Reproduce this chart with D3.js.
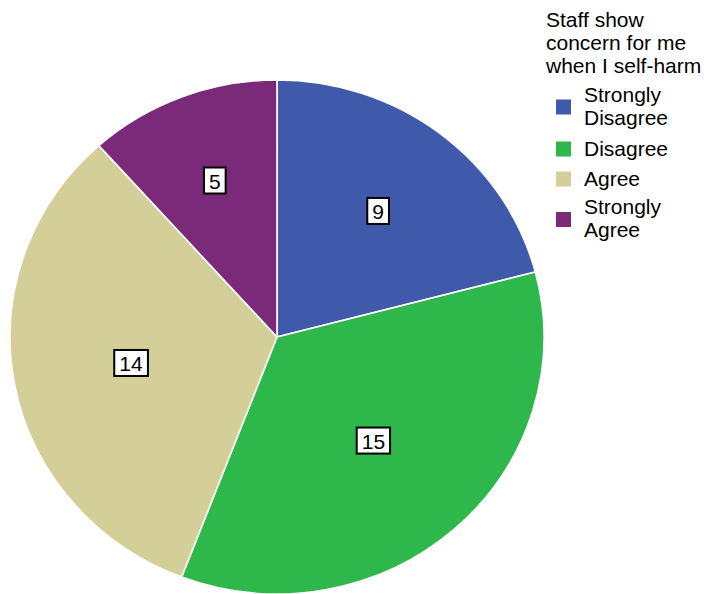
<!DOCTYPE html>
<html>
<head>
<meta charset="utf-8">
<script src="https://cdn.jsdelivr.net/npm/d3@7"></script>
<style>
  html, body { margin: 0; padding: 0; background: #fff; }
  svg { display: block; }
  text { font-family: "Liberation Sans", Arial, sans-serif; }
</style>
</head>
<body>
<svg id="chart" width="707" height="594"></svg>
<script>
// Data
const categories = ["Strongly Disagree", "Disagree", "Agree", "Strongly Agree"];
const legendLines = [["Strongly", "Disagree"], ["Disagree"], ["Agree"], ["Strongly", "Agree"]];
const counts = [9, 15, 14, 5];
const colors = ["#3f59ab", "#2eb84b", "#d4cf98", "#7b2979"];
const legendTitle = ["Staff show", "concern for me", "when I self-harm"];

const svg = d3.select("#chart");
const cx = 277, cy = 337, rx = 267, ry = 257;
const sy = ry / rx;

const pie = d3.pie().sort(null).value(d => d)(counts);
const arc = d3.arc().innerRadius(0).outerRadius(rx);
const color = d3.scaleOrdinal().domain(categories).range(colors);

const g = svg.append("g").attr("transform", `translate(${cx},${cy}) scale(1,${sy})`);
g.selectAll("path").data(pie).join("path")
  .attr("d", arc)
  .attr("fill", (d, i) => color(categories[i]))
  .attr("stroke", "#fff")
  .attr("stroke-width", 1.6)
  .attr("vector-effect", "non-scaling-stroke");

// labels at sector centroids
const lg = svg.append("g");
pie.forEach((d, i) => {
  const a = d.endAngle - d.startAngle;
  const mid = (d.startAngle + d.endAngle) / 2;
  const dist = 4 * rx * Math.sin(a / 2) / (3 * a);
  const x = cx + dist * Math.sin(mid);
  const y = cy - dist * Math.cos(mid) * sy;
  const lab = lg.append("g");
  const t = lab.append("text")
    .attr("x", x).attr("y", y + 1)
    .attr("text-anchor", "middle")
    .attr("dominant-baseline", "central")
    .attr("font-size", 21)
    .attr("fill", "#000")
    .text(counts[i]);
  const bb = t.node().getBBox();
  lab.insert("rect", "text")
    .attr("x", bb.x - 5).attr("y", y - 13)
    .attr("width", bb.width + 10).attr("height", 26)
    .attr("fill", "#fff").attr("stroke", "#000").attr("stroke-width", 2);
});

// legend
const leg = svg.append("g");
legendTitle.forEach((s, i) => {
  leg.append("text").attr("x", 546).attr("y", 26.5 + i * 23.3)
    .attr("font-size", 21).attr("fill", "#000").text(s);
});
const centers = [107, 149, 179, 219.5];
legendLines.forEach((lines, i) => {
  const c = centers[i];
  leg.append("rect").attr("x", 556).attr("y", c - 7.5).attr("width", 15).attr("height", 15)
    .attr("fill", color(categories[i]));
  lines.forEach((s, j) => {
    const base = lines.length === 1 ? c + 7 : c - 5.5 + j * 23;
    leg.append("text").attr("x", 584).attr("y", base)
      .attr("font-size", 21).attr("fill", "#000").text(s);
  });
});
</script>
</body>
</html>
